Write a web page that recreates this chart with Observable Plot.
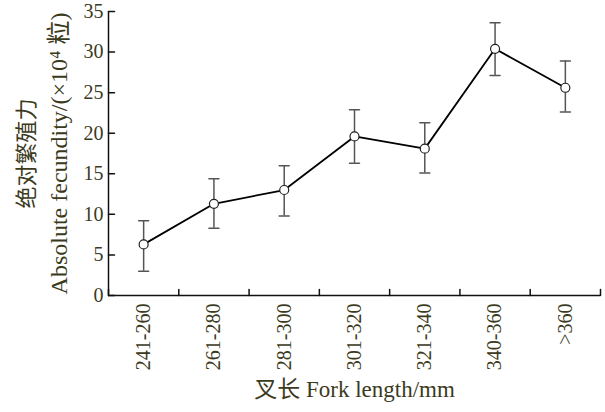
<!DOCTYPE html>
<html><head><meta charset="utf-8">
<script src="https://cdn.jsdelivr.net/npm/d3@7"></script>
<script src="https://cdn.jsdelivr.net/npm/@observablehq/plot@0.6"></script>
<style>body{margin:0;background:#fff} svg{display:block}</style>
</head><body><div id="chart"></div>
<script>
const categories = ["241-260","261-280","281-300","301-320","321-340","340-360",">360"];
const means = [6.3, 11.3, 13.0, 19.6, 18.1, 30.4, 25.6];
const upper = [9.2, 14.4, 16.0, 22.9, 21.3, 33.6, 28.9];
const lower = [3.0, 8.3, 9.8, 16.3, 15.1, 27.1, 22.6];
const yTicks = [0, 5, 10, 15, 20, 25, 30, 35];
const xLabel = "叉长 Fork length/mm";
const yLabelZh = "绝对繁殖力";
const yLabelEn = "Absolute fecundity/(×10⁴ 粒)";

const data = categories.map((c, i) => ({c, x: i + 0.5, mean: means[i], upper: upper[i], lower: lower[i]}));
const bounds = d3.range(categories.length + 1);
const seg = {draw(ctx, l) { ctx.moveTo(0, 0); ctx.lineTo(0, -l); }};
const ink = "#3b3a1c";
const font = "'Liberation Serif','Noto Sans CJK SC',serif";

const chart = Plot.plot({
  width: 605, height: 412,
  marginLeft: 108, marginRight: 5, marginTop: 11, marginBottom: 117,
  style: {fontFamily: font, fontSize: "20px", background: "#fff", overflow: "visible"},
  x: {domain: [0, categories.length], axis: null},
  y: {domain: [0, 35], axis: null},
  marks: [
    Plot.ruleY([0], {stroke: "#111", strokeWidth: 1.5}),
    Plot.ruleX([0], {stroke: "#111", strokeWidth: 1.5}),
    Plot.vector(bounds, {x: d => d, y: () => 0, length: 6, shape: seg, anchor: "start", stroke: "#111", strokeWidth: 1.5}),
    Plot.vector(yTicks, {x: () => 0, y: d => d, length: 6, rotate: 90, shape: seg, anchor: "start", stroke: "#111", strokeWidth: 1.5}),
    Plot.axisY(yTicks, {tickSize: 0, tickPadding: 5, color: ink, label: null, fontSize: 20}),
    Plot.axisX(data.map(d => d.x), {tickSize: 0, tickPadding: 8, tickRotate: -90, tickFormat: v => categories[Math.floor(v)], label: null, color: ink, fontSize: 20}),
    Plot.ruleX(data, {x: "x", y1: "lower", y2: "upper", stroke: "#555", strokeWidth: 1.5}),
    Plot.vector(data, {x: "x", y: "upper", length: 10, rotate: 90, anchor: "middle", shape: seg, stroke: "#555", strokeWidth: 1.5}),
    Plot.vector(data, {x: "x", y: "lower", length: 10, rotate: 90, anchor: "middle", shape: seg, stroke: "#555", strokeWidth: 1.5}),
    Plot.line(data, {x: "x", y: "mean", stroke: "#000", strokeWidth: 1.8}),
    Plot.dot(data, {x: "x", y: "mean", r: 4.5, fill: "#fff", stroke: "#222", strokeWidth: 1.2}),
    Plot.text([yLabelZh], {text: d => d, frameAnchor: "left", textAnchor: "middle", dx: -82, rotate: -90, fill: ink, fontSize: 22}),
    Plot.text([yLabelEn], {text: d => d, frameAnchor: "left", textAnchor: "middle", dx: -49, rotate: -90, fill: ink, fontSize: 24}),
    Plot.text([xLabel], {text: d => d, frameAnchor: "bottom", textAnchor: "middle", dy: 101, fill: ink, fontSize: 23})
  ]
});
document.getElementById("chart").append(chart);
</script>
</body></html>
